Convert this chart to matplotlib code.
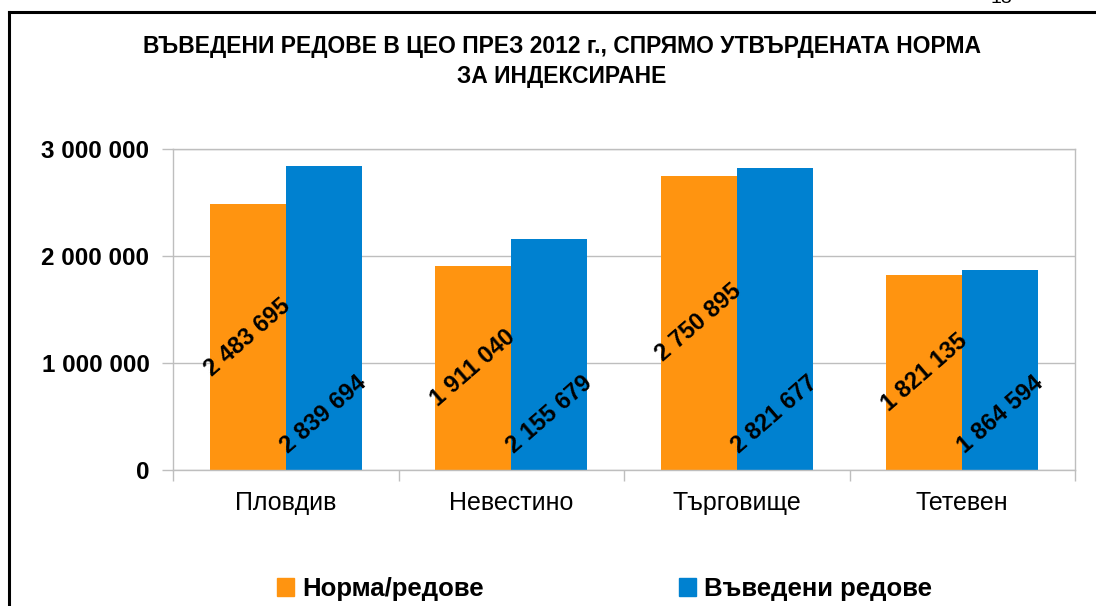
import numpy as np
import matplotlib
matplotlib.use("Agg")
import matplotlib.pyplot as plt
from matplotlib.patches import Patch
from matplotlib.lines import Line2D

plt.rcParams['font.family'] = ['Liberation Sans', 'DejaVu Sans']

# -------- data --------
categories = ['Пловдив', 'Невестино', 'Търговище', 'Тетевен']
norm_rows = [2483695, 1911040, 2750895, 1821135]
entered_rows = [2839694, 2155679, 2821677, 1864594]
series_names = ['Норма/редове', 'Въведени редове']
yticks = [0, 1000000, 2000000, 3000000]
title_lines = ['ВЪВЕДЕНИ РЕДОВЕ В ЦЕО ПРЕЗ 2012 г., СПРЯМО УТВЪРДЕНАТА НОРМА',
			   'ЗА ИНДЕКСИРАНЕ']

orange = '#FF9410'
blue = '#0081D0'
grey = '#BEBEBE'

def fmt(v):
	return f'{v:,}'.replace(',', ' ')

W, H = 1096, 606
fig = plt.figure(figsize=(W / 100, H / 100), dpi=100)
ax = fig.add_axes([173 / W, 1 - 470 / H, (1075 - 173) / W, (470 - 149) / H])

x = np.arange(len(categories))
w = 0.337
ax.bar(x - w / 2, norm_rows, w, color=orange, zorder=2)
ax.bar(x + w / 2, entered_rows, w, color=blue, zorder=2)

# value labels: orange in the middle of the bar, blue sitting on the base
for xi, v in zip(x - w / 2, norm_rows):
	ax.text(xi, v / 2, fmt(v), rotation=41, ha='center', va='center',
			fontsize=17, fontweight='bold', zorder=3)
for xi, v in zip(x + w / 2, entered_rows):
	ax.annotate(fmt(v), xy=(xi, 0), xytext=(0, 9), textcoords='offset points',
				rotation=41, ha='center', va='bottom',
				fontsize=17, fontweight='bold', zorder=3)

ax.set_xlim(-0.5, len(categories) - 0.5)
ax.set_ylim(0, 3000000)
ax.set_yticks(yticks)
ax.set_yticklabels([fmt(t) for t in yticks], fontsize=17.5, fontweight='bold')
ax.set_xticks(x)
ax.set_xticklabels(categories, fontsize=18)
ax.set_xticks(np.arange(-0.5, len(categories), 1.0), minor=True)
ax.tick_params(axis='x', which='major', length=0, pad=15)
ax.tick_params(axis='x', which='minor', length=8, color=grey, width=1)
ax.tick_params(axis='y', length=8, color=grey, width=1, pad=9)
ax.yaxis.grid(True, color=grey, lw=1, zorder=0)
for s in ax.spines.values():
	s.set_color(grey)
	s.set_linewidth(1)

# title, two lines
for line, ypix in zip(title_lines, [47, 77]):
	fig.text(562 / W, 1 - ypix / H, line, ha='center', va='center', fontsize=16.5,
			 fontweight='bold')

# legend
handles = [Patch(color=orange), Patch(color=blue)]
fig.legend(handles, series_names, ncol=2, loc='center left',
		   bbox_to_anchor=(277 / W, 1 - 589 / H), frameon=False,
		   prop={'size': 18.5, 'weight': 'bold'}, handlelength=0.66,
		   handleheight=0.7, handletextpad=0.31, columnspacing=7.6,
		   borderpad=0, borderaxespad=0)

# chart frame (left and top edges)
fig.add_artist(Line2D([9 / W, 9 / W], [0, 1 - 12 / H], color='black', lw=2.2,
					  transform=fig.transFigure))
fig.add_artist(Line2D([9 / W, 1], [1 - 12 / H, 1 - 12 / H], color='black', lw=2.2,
					  transform=fig.transFigure))
# page number, cut by the top edge as in the scan
fig.text(1001 / W, 1 - 3 / H, '13', ha='center', va='baseline', fontsize=14)

fig.savefig('out.png', dpi=100)
